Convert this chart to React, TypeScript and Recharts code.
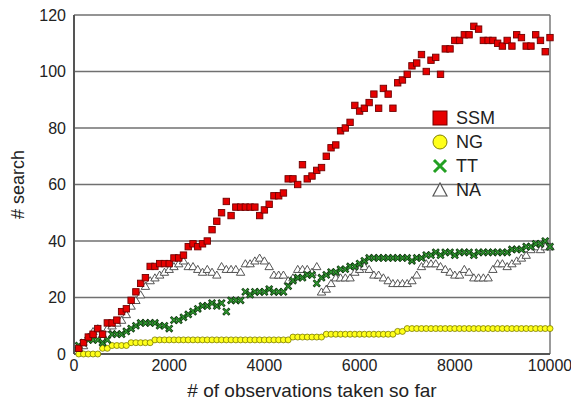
import React from "react";
import {
  ScatterChart,
  Scatter,
  XAxis,
  YAxis,
  CartesianGrid,
  ReferenceLine,
  Label,
} from "recharts";

// observations are logged every 100 steps, first at 100
const obsStep = 100;

const ssm = [
  2, 4, 6, 7, 9, 7, 11, 11, 12, 15,
  16, 19, 22, 25, 27, 31, 31, 32, 32, 32,
  34, 34, 35, 38, 39, 38, 39, 40, 44, 47,
  50, 54, 49, 52, 52, 52, 52, 52, 49, 51,
  53, 56, 56, 57, 62, 62, 60, 67, 62, 63,
  65, 66, 70, 73, 74, 79, 80, 82, 88, 86,
  87, 89, 92, 87, 94, 92, 87, 96, 97, 99,
  102, 103, 106, 100, 104, 105, 99, 108, 108, 111,
  111, 113, 113, 116, 115, 111, 111, 111, 110, 109,
  111, 109, 113, 112, 109, 109, 113, 111, 107, 112,
];

const ng = [
  0, 0, 0, 0, 0, 2, 2, 3, 3, 3,
  3, 4, 4, 4, 4, 4, 5, 5, 5, 5,
  5, 5, 5, 5, 5, 5, 5, 5, 5, 5,
  5, 5, 5, 5, 5, 5, 5, 5, 5, 5,
  5, 5, 5, 5, 5, 6, 6, 6, 6, 6,
  6, 6, 7, 7, 7, 7, 7, 7, 7, 7,
  7, 7, 7, 7, 7, 7, 7, 8, 8, 9,
  9, 9, 9, 9, 9, 9, 9, 9, 9, 9,
  9, 9, 9, 9, 9, 9, 9, 9, 9, 9,
  9, 9, 9, 9, 9, 9, 9, 9, 9, 9,
];

const tt = [
  3, 4, 5, 5, 5, 4, 5, 7, 7, 7,
  8, 9, 10, 11, 11, 11, 11, 10, 10, 9,
  12, 12, 13, 14, 15, 16, 17, 17, 18, 17,
  18, 15, 19, 19, 19, 22, 21, 22, 22, 22,
  23, 22, 22, 22, 24, 26, 27, 27, 28, 28,
  25, 27, 28, 29, 29, 30, 30, 31, 31, 32,
  33, 34, 34, 34, 34, 34, 34, 34, 34, 34,
  33, 34, 34, 35, 35, 36, 35, 36, 36, 35,
  36, 36, 36, 35, 36, 36, 36, 36, 36, 36,
  36, 37, 37, 37, 38, 38, 39, 39, 40, 38,
];

const na = [
  2, 3, 6, 8, 9, 7, 9, 10, 11, 12,
  14, 17, 19, 21, 24, 26, 27, 28, 29, 30,
  31, 32, 33, 31, 31, 30, 29, 30, 29, 28,
  31, 30, 30, 30, 29, 32, 32, 33, 34, 33,
  31, 28, 28, 28, 26, 27, 30, 30, 30, 29,
  31, 22, 23, 25, 27, 27, 27, 27, 29, 30,
  31, 30, 28, 28, 27, 26, 25, 25, 25, 25,
  26, 28, 31, 32, 32, 32, 31, 30, 29, 28,
  28, 30, 29, 27, 27, 27, 27, 30, 32, 32,
  31, 32, 33, 34, 35, 37, 38, 37, 38, 38,
];

const xTicks = [0, 2000, 4000, 6000, 8000, 10000];
const yTicks = [0, 20, 40, 60, 80, 100, 120];
const legendNames = ["SSM", "NG", "TT", "NA"];

const toPoints = (vals: number[]) =>
  vals.map((v, i) => ({ obs: (i + 1) * obsStep, n: v }));

const font = "'Liberation Sans', Arial, sans-serif";

const Square = (p: any) => (
  <rect x={p.cx - 3.2} y={p.cy - 3.2} width={6.4} height={6.4} fill="#e60000" stroke="#700000" strokeWidth={0.9} />
);
const Dot = (p: any) => (
  <circle cx={p.cx} cy={p.cy} r={3} fill="#ffff1a" stroke="#7a7a00" strokeWidth={0.8} />
);
const Cross = (p: any) => (
  <g>
    <path d={`M${p.cx - 3.2},${p.cy - 3.2}L${p.cx + 3.2},${p.cy + 3.2}M${p.cx - 3.2},${p.cy + 3.2}L${p.cx + 3.2},${p.cy - 3.2}`} stroke="#103a10" strokeWidth={2.6} />
    <path d={`M${p.cx - 2.6},${p.cy - 2.6}L${p.cx + 2.6},${p.cy + 2.6}M${p.cx - 2.6},${p.cy + 2.6}L${p.cx + 2.6},${p.cy - 2.6}`} stroke="#2f9a2f" strokeWidth={1.2} />
  </g>
);
const Tri = (p: any) => (
  <path d={`M${p.cx},${p.cy - 3.9}L${p.cx - 4.2},${p.cy + 3.2}L${p.cx + 4.2},${p.cy + 3.2}Z`} fill="#fff" stroke="#444" strokeWidth={0.9} />
);

function LegendBox() {
  const marks = [
    <rect x={1} y={1} width={14} height={14} fill="#e60000" stroke="#700000" strokeWidth={1} />,
    <circle cx={8} cy={8} r={7} fill="#ffff1a" stroke="#808000" strokeWidth={1} />,
    <path d="M2,2L14,14M2,14L14,2" stroke="#22a022" strokeWidth={3} />,
    <path d="M8,1L1,14L15,14Z" fill="#fff" stroke="#555" strokeWidth={1.2} />,
  ];
  return (
    <div style={{ position: "absolute", left: 432, top: 106, fontFamily: font, fontSize: 18, color: "#222" }}>
      {legendNames.map((name, i) => (
        <div key={name} style={{ display: "flex", alignItems: "center", height: 24 }}>
          <svg width={16} height={16} style={{ marginRight: 8 }}>{marks[i]}</svg>
          <span>{name}</span>
        </div>
      ))}
    </div>
  );
}

export default function App() {
  return (
    <div style={{ position: "absolute", left: 0, top: 0, width: 571, height: 402, background: "#fff", fontFamily: font }}>
      <ScatterChart width={571} height={402} margin={{ top: 15, right: 21, bottom: 0, left: 0 }}>
        <CartesianGrid horizontal vertical={false} stroke="#707070" strokeWidth={1.4} />
        <ReferenceLine x={10000} stroke="#707070" strokeWidth={1.4} />
        <XAxis
          type="number"
          dataKey="obs"
          domain={[0, 10000]}
          ticks={xTicks}
          height={48}
          tickLine={false}
          tickSize={4}
          axisLine={{ stroke: "#555", strokeWidth: 2 }}
          tick={{ fill: "#222", fontSize: 16, fontFamily: font }}
        >
          <Label value="# of observations taken so far" position="insideBottom" offset={5} fill="#222" fontSize={19} fontFamily={font} />
        </XAxis>
        <YAxis
          type="number"
          dataKey="n"
          domain={[0, 120]}
          ticks={yTicks}
          width={74}
          tickLine={false}
          axisLine={{ stroke: "#555", strokeWidth: 2 }}
          tick={{ fill: "#222", fontSize: 16, fontFamily: font }}
          label={{
            content: (props: any) => {
              const vb = props.viewBox || { x: 0, y: 15, width: 74, height: 339 };
              const cx = vb.x + 18;
              const cy = vb.y + vb.height / 2;
              return (
                <text x={cx} y={cy} transform={`rotate(-90 ${cx} ${cy})`} textAnchor="middle" dominantBaseline="central" fill="#222" fontSize={18} fontFamily={font}>
                  # search
                </text>
              );
            },
          }}
        />
        <Scatter name="NA" data={toPoints(na)} shape={Tri} isAnimationActive={false} />
        <Scatter name="NG" data={toPoints(ng)} shape={Dot} isAnimationActive={false} />
        <Scatter name="TT" data={toPoints(tt)} shape={Cross} isAnimationActive={false} />
        <Scatter name="SSM" data={toPoints(ssm)} shape={Square} isAnimationActive={false} />
      </ScatterChart>
      <LegendBox />
    </div>
  );
}
